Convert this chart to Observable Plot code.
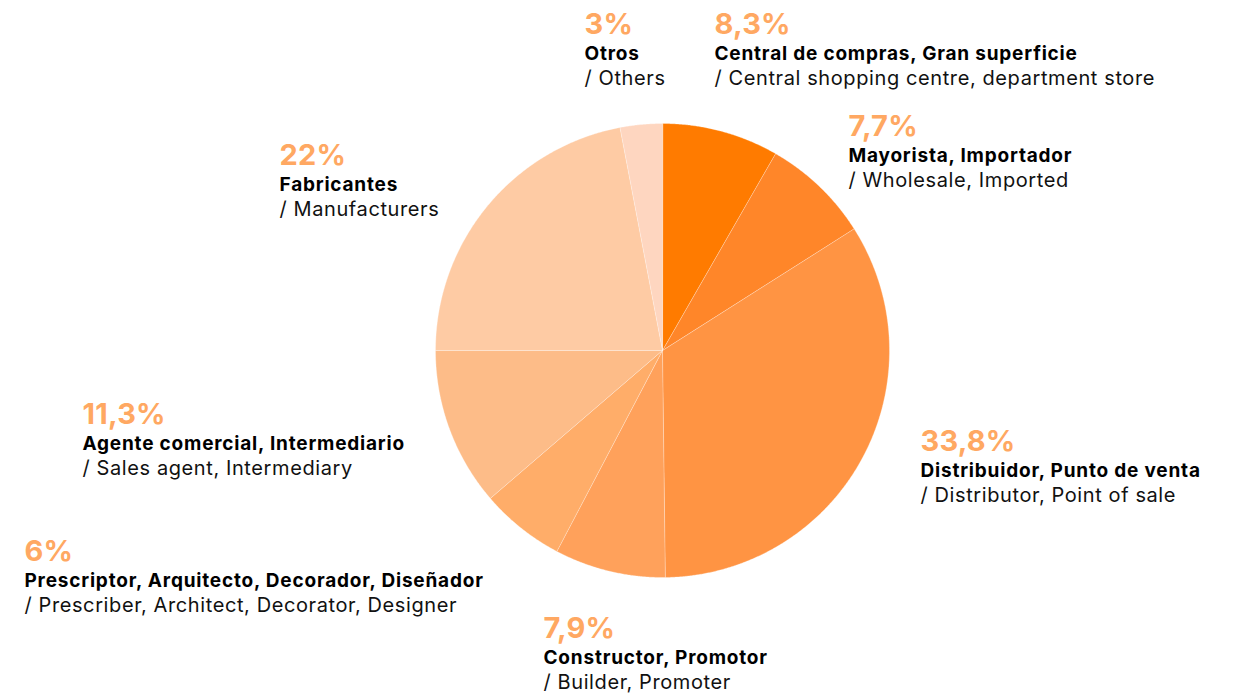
<!DOCTYPE html>
<html><head><meta charset="utf-8">
<script src="https://cdn.jsdelivr.net/npm/d3@7"></script>
<script src="https://cdn.jsdelivr.net/npm/@observablehq/plot@0.6"></script>
<style>html,body{margin:0;padding:0;background:#fff;}</style>
</head><body><div id="chart"></div>
<script>
// ---- data ----
const categories = ["Central de compras, Gran superficie", "Mayorista, Importador", "Distribuidor, Punto de venta", "Constructor, Promotor", "Prescriptor, Arquitecto, Decorador, Diseñador", "Agente comercial, Intermediario", "Fabricantes", "Otros"];
const categoriesEn = ["/ Central shopping centre, department store", "/ Wholesale, Imported", "/ Distributor, Point of sale", "/ Builder, Promoter", "/ Prescriber, Architect, Decorator, Designer", "/ Sales agent, Intermediary", "/ Manufacturers", "/ Others"];
const shares = [8.3, 7.7, 33.8, 7.9, 6, 11.3, 22, 3];
const shareLabels = ["8,3%", "7,7%", "33,8%", "7,9%", "6%", "11,3%", "22%", "3%"];
const sliceColors = ["#ff7b00", "#ff8629", "#ff9443", "#ffa15b", "#ffad69", "#fdbc88", "#fecba4", "#fed6c0"];

// ---- layout ----
const W = 1236, H = 695, cx = 662, cy = 350, R = 227;
const labelAnchors = [[714, 33], [848, 135], [920, 450], [543, 637], [24, 560], [82, 423], [279, 164], [584, 33]];
const FONT = "Inter, 'Work Sans', sans-serif";

const arcs = d3.pie().sort(null).value(d => d)(shares);
const features = arcs.map((a, i) => {
  const ring = [[cx, cy]];
  const n = Math.max(2, Math.ceil((a.endAngle - a.startAngle) / 0.005));
  for (let k = 0; k <= n; ++k) {
    const t = a.startAngle + (a.endAngle - a.startAngle) * k / n;
    ring.push([cx + R * Math.sin(t), cy - R * Math.cos(t)]);
  }
  ring.push([cx, cy]);
  return {type: "Feature", properties: {i}, geometry: {type: "Polygon", coordinates: [ring]}};
});
const idx = d3.range(shares.length);

const chart = Plot.plot({
  width: W, height: H, margin: 0,
  projection: "identity",
  color: {type: "identity"},
  style: {fontFamily: FONT, background: "#fff"},
  marks: [
    Plot.geo(features, {fill: d => sliceColors[d.properties.i], stroke: "#fff", strokeWidth: 0.6, strokeOpacity: 0.5}),
    Plot.text(idx, {x: i => labelAnchors[i][0], y: i => labelAnchors[i][1], text: i => shareLabels[i], textAnchor: "start", lineAnchor: "bottom", fill: "#ffa862", fontSize: 29, fontWeight: 700, fontFamily: FONT}),
    Plot.text(idx, {x: i => labelAnchors[i][0], y: i => labelAnchors[i][1] + 26, text: i => categories[i], textAnchor: "start", lineAnchor: "bottom", fill: "#000", fontSize: 19, fontWeight: 700, fontFamily: FONT}),
    Plot.text(idx, {x: i => labelAnchors[i][0], y: i => labelAnchors[i][1] + 51, text: i => categoriesEn[i], textAnchor: "start", lineAnchor: "bottom", fill: "#111", fontSize: 20, fontWeight: 400, fontFamily: FONT})
  ]
});
const textGroups = chart.querySelectorAll('g[aria-label="text"]');
if (textGroups[0]) textGroups[0].style.letterSpacing = "0.2px";
if (textGroups[1]) textGroups[1].style.letterSpacing = "0.8px";
if (textGroups[2]) textGroups[2].style.letterSpacing = "0.6px";
document.getElementById("chart").appendChild(chart);
</script>
</body></html>
